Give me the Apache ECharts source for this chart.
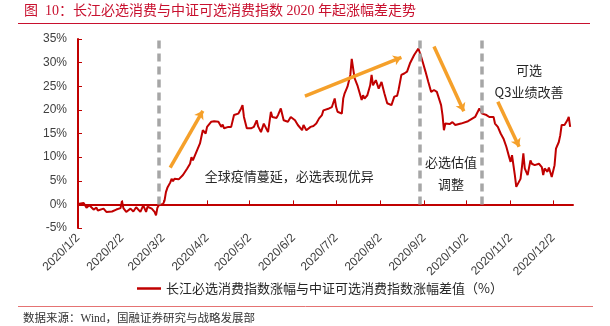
<!DOCTYPE html>
<html>
<head>
<meta charset="utf-8">
<script src="https://cdn.jsdelivr.net/npm/echarts@6/dist/echarts.min.js"></script>
<style>
html,body{margin:0;padding:0;background:#fff;}
#c{width:610px;height:326px;}
</style>
</head>
<body>
<div id="c"></div>
<script>
// ---- data ----
const titleText = '图  10：长江必选消费与中证可选消费指数 2020 年起涨幅差走势';
const seriesName = '长江必选消费指数涨幅与中证可选消费指数涨幅差值（%）';
const sourceText = '数据来源：Wind，国融证券研究与战略发展部';

const dates = [
'2020-01-02','2020-01-06','2020-01-07','2020-01-08','2020-01-10','2020-01-13','2020-01-15','2020-01-16','2020-01-20','2020-01-22',
'2020-01-26','2020-01-29','2020-02-01','2020-02-02','2020-02-03','2020-02-05','2020-02-08','2020-02-10','2020-02-12','2020-02-15',
'2020-02-17','2020-02-19','2020-02-20','2020-02-23','2020-02-25','2020-02-26','2020-02-27','2020-02-28','2020-03-02','2020-03-03',
'2020-03-04','2020-03-05','2020-03-07','2020-03-08','2020-03-09','2020-03-10','2020-03-13','2020-03-16','2020-03-19','2020-03-21',
'2020-03-22','2020-03-23','2020-03-26','2020-03-28','2020-03-29','2020-03-30','2020-04-01','2020-04-02','2020-04-05','2020-04-07',
'2020-04-10','2020-04-12','2020-04-13','2020-04-14','2020-04-17','2020-04-19','2020-04-21','2020-04-24','2020-04-26','2020-04-27',
'2020-04-28','2020-04-30','2020-05-03','2020-05-05','2020-05-07','2020-05-08','2020-05-10','2020-05-12','2020-05-15','2020-05-17',
'2020-05-18','2020-05-21','2020-05-22','2020-05-24','2020-05-26','2020-05-29','2020-05-31','2020-06-03','2020-06-05','2020-06-08',
'2020-06-09','2020-06-11','2020-06-14','2020-06-16','2020-06-18','2020-06-20','2020-06-22','2020-06-23','2020-06-27','2020-06-29',
'2020-07-01','2020-07-02','2020-07-03','2020-07-06','2020-07-07','2020-07-08','2020-07-10','2020-07-12','2020-07-13','2020-07-15',
'2020-07-17','2020-07-20','2020-07-21','2020-07-22','2020-07-24','2020-07-26','2020-07-27','2020-07-28','2020-07-30','2020-08-01',
'2020-08-03','2020-08-05','2020-08-07','2020-08-10','2020-08-12','2020-08-14','2020-08-15','2020-08-17','2020-08-19','2020-08-21',
'2020-08-23','2020-08-26','2020-08-29','2020-08-31','2020-09-01','2020-09-03','2020-09-05','2020-09-07','2020-09-09','2020-09-11',
'2020-09-14','2020-09-15','2020-09-16','2020-09-17','2020-09-20','2020-09-21','2020-09-22','2020-09-24','2020-09-28','2020-10-03',
'2020-10-08','2020-10-11','2020-10-13','2020-10-16','2020-10-18','2020-10-21','2020-10-22','2020-10-24','2020-10-26','2020-10-27',
'2020-10-28','2020-10-30','2020-11-01','2020-11-02','2020-11-03','2020-11-05','2020-11-06','2020-11-09','2020-11-10','2020-11-11',
'2020-11-12','2020-11-14','2020-11-16','2020-11-17','2020-11-19','2020-11-22','2020-11-24','2020-11-25','2020-11-26','2020-11-28',
'2020-11-29','2020-12-01','2020-12-03','2020-12-04','2020-12-06','2020-12-07','2020-12-08','2020-12-10','2020-12-12','2020-12-13',
'2020-12-14'
];
const spread = [
0.1,0.3,0.35,-0.7,-0.2,-1.1,-0.7,-1.3,-0.9,-1.6,
-1.5,-1.1,-0.8,0.7,-0.8,-1.6,-0.9,-1.5,-0.6,-1.6,
-0.2,-1.6,-0.5,-0.9,-1.6,-2.3,-0.7,-0.2,0.1,0.8,
2.6,3.5,4.6,5.4,4.9,5.4,5.3,6.2,7.6,8.6,
10.0,9.3,11.5,12.9,14.3,15.7,15.0,16.4,17.5,17.6,
17.5,16.4,16.9,16.1,16.4,16.4,18.9,19.2,20.3,21.0,
18.5,16.1,16.1,16.4,17.8,16.5,15.3,17.1,15.3,19.6,
18.5,18.3,18.9,20.3,17.8,17.5,18.5,17.8,16.8,15.7,
16.8,15.7,16.4,16.6,17.1,18.2,18.9,19.9,20.3,20.6,
22.4,20.6,19.6,19.2,22.4,23.5,24.9,27.4,30.8,26.7,
25.2,22.1,23.1,22.4,23.1,25.2,27.4,25.2,26.3,24.5,
25.9,23.5,21.4,21.0,22.8,23.0,24.2,27.4,27.7,28.1,
29.8,31.6,33.0,31.2,30.2,28.1,25.9,23.8,24.2,23.8,
21.0,18.9,15.7,17.1,17.0,16.6,17.4,16.8,17.1,17.6,
18.5,20.3,19.2,18.9,18.5,18.5,17.1,16.4,15.0,15.4,
13.9,12.2,10.0,9.0,10.4,6.2,3.7,5.4,7.9,10.8,
7.6,6.2,9.3,8.6,8.3,8.6,7.9,6.2,7.6,6.9,
7.8,5.8,8.3,11.8,13.2,14.6,16.8,16.8,17.8,18.5,
16.4
];
const tickDates = ['2020-01-02','2020-02-02','2020-03-02','2020-04-02','2020-05-02','2020-06-02',
  '2020-07-02','2020-08-02','2020-09-02','2020-10-02','2020-11-02','2020-12-02'];
const axisStart = '2020-01-02';
const axisEnd = '2020-12-16';
const yMin = -5, yMax = 35, yStep = 5;

// phase dividers (vertical dashed lines)
const dividerDates = ['2020-02-28','2020-08-30','2020-10-13'];
// trend arrows
const arrowStartDates = ['2020-03-07','2020-06-10','2020-09-09','2020-10-24'];
const arrowStartValues = [7.8, 22.9, 33.4, 21.7];
const arrowEndDates = ['2020-03-30','2020-08-17','2020-09-30','2020-11-08'];
const arrowEndValues = [19.8, 31.1, 19.7, 12.2];
// annotations
const noteTexts = ['全球疫情蔓延，必选表现优异','必选估值\n调整','可选\nQ3业绩改善'];
const noteDates = ['2020-05-30','2020-09-21','2020-11-15'];
const noteValues = [5.9, 6.7, 26.2];

// ---- chart ----
const ts = s => { const p = s.split('-'); return new Date(+p[0], +p[1]-1, +p[2]).getTime(); };
const RED = '#c00000';
const chart = echarts.init(document.getElementById('c'), null, {renderer:'canvas'});
const lineData = dates.map((d,i)=>[ts(d), spread[i]]);
const tickVals = tickDates.map(ts);

const option = {
  animation: false,
  backgroundColor: '#fff',
  grid: {left: 78, right: 37, top: 39, bottom: 98, containLabel: false},
  legend: {
    data: [seriesName],
    left: 132, top: 277,
    icon: 'rect', itemWidth: 24, itemHeight: 2.5, itemGap: 4,
    textStyle: {fontFamily: '"Noto Sans CJK SC", sans-serif', fontSize: 13, color: '#262626'}
  },
  xAxis: {
    type: 'value',
    min: ts(axisStart), max: ts(axisEnd),
    splitLine: {show: false},
    axisLine: {onZero: true, lineStyle: {color: RED, width: 2}},
    axisTick: {show: true, inside: true, length: 4, customValues: tickVals, lineStyle: {color: RED, width: 1}},
    axisLabel: {
      customValues: tickVals,
      rotate: 45, margin: 8,
      fontFamily: 'Liberation Sans, Arial, sans-serif', fontSize: 12, color: '#404040',
      formatter: v => { const d = new Date(v); return d.getFullYear()+'/'+(d.getMonth()+1)+'/'+d.getDate(); }
    }
  },
  yAxis: {
    type: 'value', min: yMin, max: yMax, interval: yStep,
    splitLine: {show: false},
    axisLine: {show: true, lineStyle: {color: RED, width: 2}},
    axisTick: {show: true, inside: true, length: 4, lineStyle: {color: RED}},
    axisLabel: {formatter: '{value}%', margin: 11, fontFamily: 'Liberation Sans, Arial, sans-serif', fontSize: 12, color: '#404040'}
  },
  series: [
    {
      name: 'dividers', type: 'line', data: [], silent: true,
      markLine: {
        silent: true, symbol: ['none','none'], label: {show: false},
        lineStyle: {color: '#a6a6a6', width: 3.5, type: [8,5]},
        data: dividerDates.map(d => [{coord: [ts(d), 0]}, {coord: [ts(d), yMax]}])
      }
    },
    {
      name: seriesName, type: 'line', data: lineData,
      showSymbol: false, symbol: 'none',
      lineStyle: {color: RED, width: 2}, itemStyle: {color: RED},
      z: 3
    },
    {
      name: 'arrows', type: 'line', data: [], silent: true, z: 4,
      markLine: {
        silent: true, symbol: ['none','arrow'], symbolSize: [8, 8], label: {show: false},
        lineStyle: {color: '#F5A02A', width: 3.5, type: 'solid'},
        itemStyle: {color: '#F5A02A'},
        data: arrowStartDates.map((d,i) => [{coord: [ts(d), arrowStartValues[i]]}, {coord: [ts(arrowEndDates[i]), arrowEndValues[i]]}])
      }
    },
    {
      name: 'notes', type: 'line', data: [], silent: true, z: 5,
      markPoint: {
        silent: true, symbol: 'circle', symbolSize: 0,
        label: {show: true, position: 'inside', fontFamily: '"Noto Sans CJK SC", sans-serif', fontSize: 13, color: '#262626', lineHeight: 22, align: 'center', verticalAlign: 'middle'},
        data: noteTexts.map((t,i) => ({coord: [ts(noteDates[i]), noteValues[i]], value: t, label: {formatter: t}}))
      }
    }
  ],
  graphic: [
    {type: 'text', left: 24, top: 4, style: {text: titleText, fill: '#c8102e', font: '14px "Liberation Serif", "Noto Sans CJK SC", serif'}},
    {type: 'line', shape: {x1: 18, y1: 23.5, x2: 590, y2: 23.5}, style: {stroke: '#c8102e', lineWidth: 1}},
    {type: 'line', shape: {x1: 18, y1: 306.5, x2: 593, y2: 306.5}, style: {stroke: '#e57373', lineWidth: 1}},
    {type: 'text', left: 23, top: 313, style: {text: sourceText, fill: '#333', font: '11.5px "Liberation Serif", "Noto Sans CJK SC", serif'}}
  ]
};
chart.setOption(option);
</script>
</body>
</html>
